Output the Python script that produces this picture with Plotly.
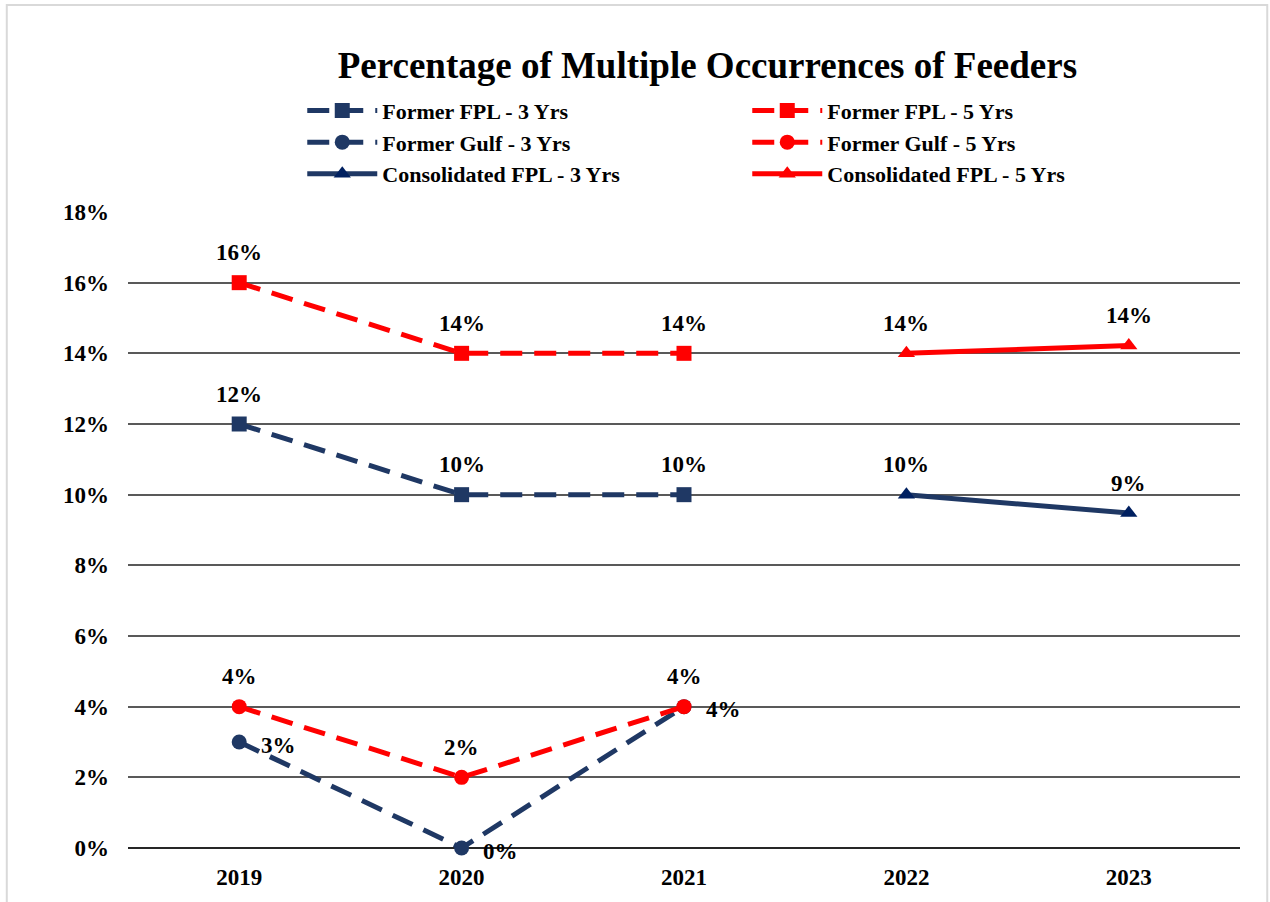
import plotly.graph_objects as go

years = ["2019", "2020", "2021", "2022", "2023"]

fpl3_x = ["2019", "2020", "2021"]
fpl3_y = [12, 10, 10]
fpl3_lbl = ["12%", "10%", "10%"]

fpl5_x = ["2019", "2020", "2021"]
fpl5_y = [16, 14, 14]
fpl5_lbl = ["16%", "14%", "14%"]

gulf3_x = ["2019", "2020", "2021"]
gulf3_y = [3, 0, 4]
gulf3_lbl = ["3%", "0%", "4%"]

gulf5_x = ["2019", "2020", "2021"]
gulf5_y = [4, 2, 4]
gulf5_lbl = ["4%", "2%", "4%"]

cons3_x = ["2022", "2023"]
cons3_y = [10, 9.48]
cons3_lbl = ["10%", "9%"]

cons5_x = ["2022", "2023"]
cons5_y = [14, 14.22]
cons5_lbl = ["14%", "14%"]

y_ticks = [0, 2, 4, 6, 8, 10, 12, 14, 16, 18]
y_tick_text = [f"{v}%" for v in y_ticks]

NAVY = "#1F3864"
NAVY2 = "#002060"
RED = "#FF0000"
FONT = "Liberation Serif"
DASH = "22px,12px"

fig = go.Figure()

series = [
    ("Former FPL - 3 Yrs", fpl3_x, fpl3_y, NAVY, NAVY, "square", DASH, 15),
    ("Former FPL - 5 Yrs", fpl5_x, fpl5_y, RED, RED, "square", DASH, 15),
    ("Former Gulf - 3 Yrs", gulf3_x, gulf3_y, NAVY, NAVY, "circle", DASH, 15),
    ("Former Gulf - 5 Yrs", gulf5_x, gulf5_y, RED, RED, "circle", DASH, 15),
    ("Consolidated FPL - 3 Yrs", cons3_x, cons3_y, NAVY, NAVY2, "triangle-up", "solid", 15),
    ("Consolidated FPL - 5 Yrs", cons5_x, cons5_y, RED, RED, "triangle-up", "solid", 15),
]

for name, xs, ys, lc, mc, sym, dash, ms in series:
    fig.add_trace(go.Scatter(
        x=xs, y=ys, name=name, mode="lines+markers",
        line=dict(color=lc, width=5, dash=dash),
        marker=dict(color=mc, symbol=sym, size=ms, line=dict(width=0)),
        cliponaxis=False,
    ))

annotations = []
label_sets = [
    (fpl3_x, fpl3_y, fpl3_lbl, 0, 30),
    (fpl5_x, fpl5_y, fpl5_lbl, 0, 30),
    (gulf5_x, gulf5_y, gulf5_lbl, 0, 30),
    (gulf3_x, gulf3_y, gulf3_lbl, 39, -3),
    (cons3_x, cons3_y, cons3_lbl, 0, 30),
    (cons5_x, cons5_y, cons5_lbl, 0, 30),
]
for xs, ys, lbls, xs_shift, ys_shift in label_sets:
    for x, y, t in zip(xs, ys, lbls):
        annotations.append(dict(
            x=years.index(x), y=y, xref="x", yref="y", text=t, showarrow=False,
            xshift=xs_shift, yshift=ys_shift,
            font=dict(family=FONT, size=23, color="black", weight="bold"),
        ))

fig.update_layout(
    width=1270, height=902,
    margin=dict(l=128, r=30, t=212, b=54, autoexpand=False),
    paper_bgcolor="white", plot_bgcolor="white",
    font=dict(family=FONT, color="black"),
    title=dict(
        text="Percentage of Multiple Occurrences of Feeders",
        x=0.557, xref="container", xanchor="center",
        y=0.928, yref="container", yanchor="middle",
        font=dict(family=FONT, size=37, color="black", weight="bold"),
    ),
    showlegend=True,
    legend=dict(
        orientation="h", xref="container", yref="container",
        x=0.238, y=0.9005, xanchor="left", yanchor="top",
        entrywidth=360, entrywidthmode="pixels",
        font=dict(family=FONT, size=22, color="black", weight="bold"),
        itemwidth=70, bgcolor="rgba(0,0,0,0)",
        tracegroupgap=0,
    ),
    annotations=annotations,
    shapes=[dict(
        type="rect", xref="paper", yref="paper",
        x0=-0.109, x1=1.0245, y0=-0.09, y1=1.3255,
        line=dict(color="#D9D9D9", width=2), fillcolor="rgba(0,0,0,0)", layer="below",
    )],
)

fig.update_xaxes(
    type="category", categoryorder="array", categoryarray=years,
    range=[-0.5, 4.5], showgrid=False, showline=False, zeroline=False,
    ticks="", ticklabelstandoff=13, automargin=False,
    tickfont=dict(family=FONT, size=23, color="black", weight="bold"),
)
fig.update_yaxes(
    range=[0, 18], tickvals=y_ticks, ticktext=y_tick_text,
    showgrid=True, gridcolor="#595959", gridwidth=2,
    zeroline=True, zerolinecolor="#262626", zerolinewidth=2,
    showline=False, ticks="", ticklabelstandoff=18, automargin=False,
    tickfont=dict(family=FONT, size=23, color="black", weight="bold"),
)

fig.write_html(
    "out.html",
    config={"displayModeBar": False},
    post_script="document.body.style.margin='0';document.documentElement.style.overflow='hidden';",
)
